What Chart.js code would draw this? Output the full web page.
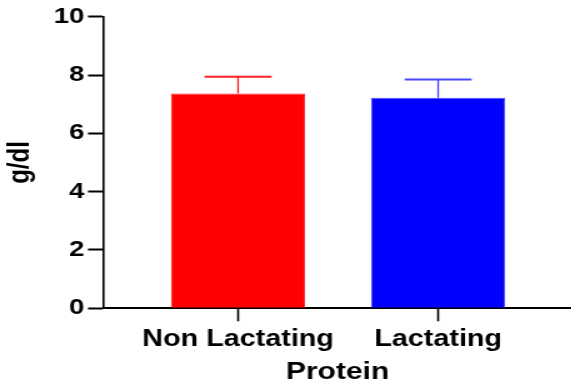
<!DOCTYPE html>
<html>
<head>
<meta charset="utf-8">
<script src="https://cdn.jsdelivr.net/npm/chart.js@4"></script>
<style>
  html, body { margin: 0; padding: 0; background: #fff; overflow: hidden; }
  /* the plot is drawn narrow and widened, giving the broad bold lettering */
  #wrap { width: 457px; height: 386px; transform: scaleX(1.25); transform-origin: 0 0; }
</style>
</head>
<body>
<div id="wrap"><canvas id="c"></canvas></div>
<script>
const categories = ['Non Lactating', 'Lactating'];
const means = [7.37, 7.22];
const sds = [0.57, 0.63];
const barColors = ['#ff0000', '#0000ff'];
const barEdges = ['#ff2020', '#4848ff'];
const yTicks = [0, 2, 4, 6, 8, 10];
const yTitle = 'g/dl';
const xTitle = 'Protein';

const FONT = '"Liberation Sans", Arial, Helvetica, sans-serif';

// upward-only SD whiskers with a cap half as wide as the bar
const whiskers = {
  id: 'whiskers',
  afterDatasetsDraw(chart) {
    const ctx = chart.ctx;
    const y = chart.scales.y;
    const meta = chart.getDatasetMeta(0);
    meta.data.forEach((bar, i) => {
      const top = y.getPixelForValue(means[i] + sds[i]);
      const half = bar.width / 4;
      ctx.save();
      ctx.strokeStyle = barEdges[i];
      ctx.lineWidth = 1.3;
      ctx.beginPath();
      ctx.moveTo(bar.x, bar.y);
      ctx.lineTo(bar.x, top);
      ctx.stroke();
      ctx.lineWidth = 2;
      ctx.beginPath();
      ctx.moveTo(bar.x - half, top);
      ctx.lineTo(bar.x + half, top);
      ctx.stroke();
      ctx.restore();
    });
  }
};

new Chart(document.getElementById('c'), {
  type: 'bar',
  data: {
    datasets: [{
      data: categories.map((c, i) => ({ x: i + 1, y: means[i] })),
      backgroundColor: barColors,
      borderColor: barEdges,
      borderWidth: 1,
      barPercentage: 0.67,
      categoryPercentage: 1
    }]
  },
  options: {
    responsive: true,
    maintainAspectRatio: false,
    animation: false,
    layout: { padding: { top: 16.7, right: 0, bottom: 0, left: 0 } },
    plugins: { legend: { display: false }, tooltip: { enabled: false } },
    scales: {
      x: {
        type: 'linear',
        min: 0.33,
        max: 2.665,
        offset: false,
        afterBuildTicks: s => { s.ticks = categories.map((c, i) => ({ value: i + 1 })); },
        afterFit: s => { s.height = 77.7; },
        ticks: {
          autoSkip: false,
          maxRotation: 0,
          padding: 5,
          color: '#000',
          font: { family: FONT, size: 23, weight: 'bold' },
          callback: v => categories[v - 1]
        },
        grid: { display: true, offset: false, drawOnChartArea: false, drawTicks: true, tickLength: 13, tickWidth: 1.6, tickColor: '#000' },
        border: { display: true, color: '#000', width: 2 },
        title: {
          display: true,
          text: xTitle,
          color: '#000',
          font: { family: FONT, size: 24, weight: 'bold', lineHeight: 1.1 },
          padding: { top: 0, bottom: 0 }
        }
      },
      y: {
        min: 0,
        max: 10,
        afterBuildTicks: s => { s.ticks = yTicks.map(v => ({ value: v })); },
        afterFit: s => { s.width = 83.2; },
        ticks: {
          padding: 3,
          color: '#000',
          font: { family: FONT, size: 22, weight: 'bold' }
        },
        grid: { display: true, drawOnChartArea: false, drawTicks: true, tickLength: 12.8, tickWidth: 2, tickColor: '#000' },
        border: { display: true, color: '#000', width: 1.6 },
        title: {
          display: true,
          text: yTitle,
          color: '#000',
          font: { family: FONT, size: 24, weight: 'bold' },
          padding: { top: 2, bottom: 0 }
        }
      }
    }
  },
  plugins: [whiskers]
});
</script>
</body>
</html>
